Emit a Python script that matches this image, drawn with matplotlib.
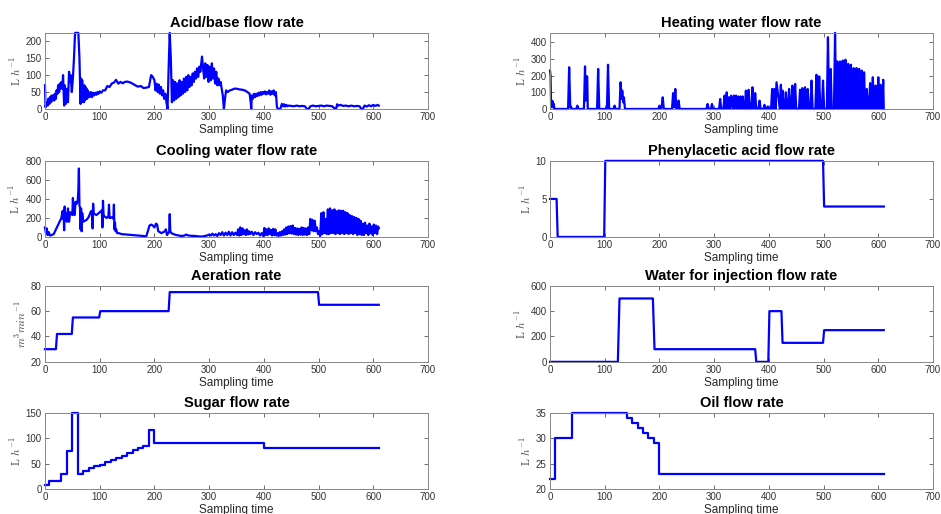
import matplotlib
matplotlib.use("Agg")
import matplotlib.pyplot as plt

plt.rcParams['font.family'] = ['Liberation Sans', 'DejaVu Sans']
plt.rcParams['mathtext.fontset'] = 'cm'

# acid/base flow rate (noisy)
ab_t = [0, 1, 3, 5, 6, 8, 9, 11, 12, 14,
        15, 17, 18, 20, 21, 23, 24, 26, 27, 29,
        30, 32, 33, 35, 36, 38, 40, 42, 44, 45,
        47, 49, 51, 53, 55, 58, 61, 63, 65, 66,
        67, 68, 69, 70, 71, 72, 73, 74, 75, 76,
        77, 78, 79, 80, 82, 84, 86, 88, 90, 92,
        94, 96, 98, 100, 103, 106, 110, 114, 118, 122,
        126, 130, 134, 138, 142, 146, 150, 155, 160, 165,
        170, 175, 180, 185, 190, 194, 197, 200, 202, 204,
        206, 208, 210, 212, 214, 216, 218, 220, 222, 224,
        226, 228, 230, 232, 234, 236, 238, 240, 242, 244,
        246, 248, 250, 252, 254, 256, 258, 260, 262, 264,
        266, 268, 270, 272, 274, 276, 278, 280, 282, 284,
        287, 289, 291, 293, 295, 297, 299, 301, 303, 305,
        307, 309, 311, 313, 315, 317, 319, 321, 323, 325,
        327, 329, 331, 334, 338, 342, 346, 350, 355, 360,
        365, 370, 374, 376, 377, 378, 380, 382, 384, 386,
        388, 390, 392, 394, 396, 398, 400, 402, 404, 406,
        408, 410, 412, 414, 416, 418, 420, 422, 424, 426,
        430, 433, 435, 437, 439, 441, 443, 445, 450, 455,
        460, 465, 470, 475, 479, 482, 485, 490, 495, 500,
        505, 510, 515, 520, 525, 529, 532, 534, 536, 540,
        545, 550, 555, 560, 565, 570, 575, 578, 581, 584,
        588, 592, 596, 600, 604, 608, 610]
ab_y = [70, 5, 20, 10, 30, 15, 35, 20, 40, 25,
        40, 25, 45, 30, 55, 45, 70, 50, 75, 60,
        80, 60, 100, 10, 70, 15, 60, 20, 110, 80,
        100, 50, 90, 150, 225, 225, 225, 150, 15, 90,
        20, 85, 25, 60, 20, 70, 25, 65, 30, 60,
        30, 55, 35, 50, 35, 50, 35, 48, 40, 48,
        42, 50, 45, 52, 48, 55, 55, 68, 65, 75,
        78, 86, 75, 80, 76, 80, 81, 79, 75, 70,
        66, 68, 62, 63, 65, 100, 95, 85, 55, 75,
        50, 72, 45, 65, 40, 55, 30, 45, 20, 0,
        120, 225, 150, 20, 85, 25, 80, 30, 75, 35,
        85, 40, 80, 45, 90, 50, 95, 55, 100, 65,
        95, 70, 105, 80, 110, 90, 120, 95, 125, 110,
        155, 120, 90, 135, 95, 130, 80, 125, 85, 135,
        90, 120, 75, 110, 70, 90, 70, 80, 60, 40,
        0, 30, 55, 50, 55, 57, 60, 60, 58, 57,
        55, 50, 45, 20, 0, 40, 30, 45, 35, 45,
        38, 48, 40, 50, 42, 50, 45, 52, 43, 50,
        45, 55, 42, 52, 45, 55, 40, 50, 5, 0,
        0, 15, 8, 14, 7, 12, 8, 10, 9, 8,
        10, 8, 9, 8, 0, 0, 8, 10, 8, 9,
        10, 8, 10, 9, 8, 2, 0, 14, 10, 12,
        9, 10, 8, 10, 8, 9, 8, 0, 0, 10,
        7, 11, 8, 12, 9, 12, 10]

# heating water flow rate (spikes)
hw_t = [0, 1, 2, 3, 4, 5, 6, 7, 8, 9,
        33, 35, 37, 38, 40, 48, 50, 52, 62, 64,
        65, 66, 68, 69, 86, 88, 90, 104, 106, 108,
        116, 118, 120, 127, 129, 131, 132, 134, 135, 137,
        198, 200, 202, 204, 206, 208, 223, 225, 227, 229,
        231, 233, 235, 237, 286, 288, 290, 294, 296, 298,
        309, 311, 313, 317, 319, 321, 323, 325, 327, 329,
        331, 334, 336, 338, 340, 342, 344, 346, 348, 350,
        352, 354, 356, 358, 360, 361, 363, 365, 368, 370,
        372, 373, 375, 377, 381, 383, 385, 390, 392, 394,
        397, 398, 400, 404, 406, 408, 410, 412, 414, 420,
        422, 423, 425, 427, 429, 431, 433, 435, 437, 439,
        441, 443, 445, 446, 448, 450, 455, 457, 459, 461,
        463, 464, 466, 468, 469, 471, 473, 476, 478, 480,
        485, 487, 489, 490, 492, 494, 497, 499, 501, 506,
        508, 510, 511, 513, 515, 519, 521, 523, 525, 527,
        528, 530, 532, 533, 535, 537, 538, 540, 542, 543,
        545, 547, 548, 550, 552, 553, 555, 557, 558, 560,
        562, 563, 565, 567, 568, 570, 572, 573, 574, 576,
        577, 579, 581, 583, 585, 587, 588, 590, 592, 593,
        595, 597, 598, 600, 602, 603, 604, 606, 607, 609,
        610]
hw_y = [230, 200, 10, 50, 20, 45, 10, 30, 0, 0,
        0, 250, 10, 15, 0, 0, 20, 0, 0, 255,
        50, 195, 195, 0, 0, 240, 0, 0, 265, 0,
        0, 20, 0, 0, 160, 60, 110, 40, 70, 0,
        0, 20, 0, 10, 70, 0, 0, 95, 10, 120,
        0, 0, 50, 0, 0, 30, 0, 0, 30, 0,
        0, 60, 0, 0, 80, 0, 100, 0, 70, 0,
        80, 0, 80, 0, 80, 0, 75, 0, 75, 0,
        75, 0, 0, 110, 0, 0, 115, 0, 0, 130,
        0, 0, 95, 0, 0, 50, 0, 0, 25, 0,
        0, 15, 0, 0, 120, 0, 120, 0, 160, 0,
        145, 0, 110, 0, 0, 100, 0, 0, 120, 0,
        0, 140, 0, 0, 150, 0, 0, 115, 0, 125,
        0, 0, 130, 0, 0, 120, 0, 0, 170, 0,
        0, 205, 0, 0, 195, 0, 0, 170, 0, 0,
        430, 0, 0, 240, 0, 0, 456, 0, 285, 0,
        0, 285, 0, 0, 290, 0, 0, 295, 0, 0,
        270, 0, 0, 265, 0, 0, 245, 0, 0, 245,
        0, 0, 240, 0, 0, 230, 0, 0, 220, 0,
        0, 120, 0, 0, 155, 0, 0, 190, 0, 0,
        140, 0, 0, 190, 0, 0, 145, 0, 0, 175,
        0]

# cooling water flow rate
cw_t = [0, 2, 3, 5, 7, 9, 12, 16, 20, 25,
        30, 32, 33, 34, 35, 36, 37, 38, 40, 42,
        44, 46, 48, 50, 51, 52, 54, 56, 58, 60,
        61, 62, 63, 64, 65, 66, 67, 68, 70, 73,
        76, 80, 84, 86, 87, 88, 89, 91, 94, 98,
        102, 104, 105, 106, 107, 108, 110, 113, 116, 117,
        118, 120, 123, 125, 126, 127, 128, 129, 130, 132,
        135, 140, 150, 160, 170, 180, 185, 188, 191, 194,
        197, 200, 203, 205, 207, 210, 213, 216, 219, 221,
        223, 225, 227, 228, 229, 231, 235, 240, 245, 250,
        255, 258, 262, 268, 275, 282, 288, 292, 296, 300,
        303, 306, 309, 312, 315, 318, 321, 324, 327, 330,
        333, 336, 339, 342, 345, 348, 351, 353, 355, 357,
        359, 361, 363, 365, 367, 369, 371, 373, 375, 378,
        381, 384, 387, 390, 393, 396, 399, 401, 403, 405,
        407, 409, 411, 413, 415, 417, 419, 421, 423, 425,
        427, 429, 431, 433, 435, 437, 439, 441, 443, 445,
        447, 449, 451, 453, 455, 457, 459, 461, 463, 465,
        467, 469, 471, 473, 475, 477, 479, 481, 483, 485,
        487, 489, 491, 493, 495, 497, 499, 501, 503, 505,
        507, 509, 511, 513, 515, 517, 519, 521, 523, 525,
        527, 529, 531, 533, 535, 537, 539, 541, 543, 545,
        547, 549, 551, 553, 555, 557, 559, 561, 563, 565,
        567, 569, 571, 573, 575, 577, 579, 581, 583, 585,
        587, 589, 591, 593, 595, 597, 599, 601, 603, 605,
        607, 609, 610]
cw_y = [100, 30, 90, 20, 50, 15, 20, 30, 80, 140,
        200, 270, 190, 280, 70, 320, 180, 250, 160, 300,
        160, 260, 250, 230, 410, 330, 230, 370, 350, 390,
        500, 720, 330, 310, 80, 300, 60, 250, 160, 170,
        180, 210, 270, 270, 90, 350, 250, 240, 230, 250,
        270, 280, 100, 380, 240, 220, 210, 200, 220, 340,
        200, 200, 210, 190, 340, 80, 150, 60, 80, 40,
        40, 30, 25, 20, 15, 10, 5, 60, 120, 130,
        120, 100, 140, 130, 60, 50, 40, 50, 60, 80,
        20, 40, 50, 240, 60, 40, 30, 20, 15, 10,
        15, 25, 15, 12, 10, 5, 5, 10, 15, 25,
        15, 35, 15, 30, 10, 40, 20, 50, 15, 45,
        20, 55, 15, 50, 20, 45, 20, 80, 15, 100,
        20, 90, 30, 70, 20, 80, 25, 60, 30, 55,
        20, 50, 30, 45, 15, 40, 10, 95, 20, 80,
        20, 90, 30, 75, 15, 85, 20, 80, 15, 40,
        10, 50, 15, 60, 20, 80, 25, 100, 30, 110,
        40, 115, 35, 120, 30, 95, 25, 90, 20, 85,
        25, 100, 20, 95, 25, 90, 20, 100, 30, 190,
        70, 180, 60, 170, 60, 100, 30, 60, 10, 250,
        30, 260, 40, 190, 30, 290, 30, 300, 40, 280,
        40, 290, 30, 270, 40, 280, 30, 275, 40, 275,
        30, 260, 40, 250, 30, 230, 40, 220, 30, 210,
        40, 200, 20, 190, 30, 170, 20, 140, 20, 150,
        40, 120, 20, 140, 40, 110, 20, 130, 40, 120,
        30, 110, 90]

# phenylacetic acid flow rate
pa_t = [0, 12, 14, 99, 101, 499, 501, 610]
pa_y = [5, 5, 0, 0, 10, 10, 4, 4]

# aeration rate
ar_t = [0, 20, 22, 49, 51, 99, 101, 226, 228, 499, 501, 610]
ar_y = [30, 30, 42, 42, 55, 55, 60, 60, 75, 75, 65, 65]

# water for injection flow rate
wi_t = [0, 124, 127, 188, 191, 375, 377, 399, 401, 423, 425, 499, 501, 610]
wi_y = [0, 0, 500, 500, 100, 100, 0, 0, 400, 400, 150, 150, 250, 250]

# sugar flow rate
su_t = [0, 7, 30, 40, 50, 60, 70, 80, 90, 100, 110, 120, 130, 140,
        150, 160, 170, 180, 190, 200, 400, 610]
su_y = [8, 15, 30, 75, 150, 30, 36, 42, 45, 48, 53, 58, 62, 66,
        72, 76, 80, 85, 116, 90, 80, 80]

# oil flow rate
oi_t = [0, 10, 40, 140, 150, 160, 170, 180, 190, 200, 610]
oi_y = [22, 30, 35, 34, 33, 32, 31, 30, 29, 23, 23]

lh = r'$\mathrm{L}\ h^{-1}$'
panels = [
    ("Acid/base flow rate", ab_t, ab_y, None, (0, 225), [0, 50, 100, 150, 200], lh),
    ("Heating water flow rate", hw_t, hw_y, None, (0, 456), [0, 100, 200, 300, 400], lh),
    ("Cooling water flow rate", cw_t, cw_y, None, (0, 800), [0, 200, 400, 600, 800], lh),
    ("Phenylacetic acid flow rate", pa_t, pa_y, None, (0, 10), [0, 5, 10], lh),
    ("Aeration rate", ar_t, ar_y, None, (20, 80), [20, 40, 60, 80], r'$m^3min^{-1}$'),
    ("Water for injection flow rate", wi_t, wi_y, None, (0, 600), [0, 200, 400, 600], lh),
    ("Sugar flow rate", su_t, su_y, 'steps-post', (0, 150), [0, 50, 100, 150], lh),
    ("Oil flow rate", oi_t, oi_y, 'steps-post', (20, 35), [20, 25, 30, 35], lh),
]

fig = plt.figure(figsize=(9.41, 5.14), dpi=100)
lefts = [0.0478, 0.5845]
bottoms = [0.788, 0.539, 0.296, 0.0486]
for i, (title, t, y, ds, ylim, yt, ylab) in enumerate(panels):
    ax = fig.add_axes([lefts[i % 2], bottoms[i // 2], 0.407, 0.148])
    # lines that sit on the axis limits are drawn in full, as in the original figure
    if ds:
        ax.plot(t, y, color='#0000ff', lw=1.6, drawstyle=ds, clip_on=False)
    else:
        ax.plot(t, y, color='#0000ff', lw=1.6, clip_on=False)
    ax.set_xlim(0, 700)
    ax.set_ylim(*ylim)
    ax.set_xticks(range(0, 701, 100))
    ax.set_yticks(yt)
    ax.tick_params(direction='in', length=3, width=0.6, labelsize=7, colors='#555555',
                   labelcolor='#333333', top=True, right=True, pad=2.5)
    for s in ax.spines.values():
        s.set_color('#888888')
        s.set_linewidth(0.7)
    ax.set_title(title, fontsize=10.5, fontweight='bold', pad=4)
    ax.set_xlabel("Sampling time", fontsize=8.5, color='#262626', labelpad=1)
    ax.set_ylabel(ylab, fontsize=8, color='#444444', labelpad=2)

fig.savefig("out.png", dpi=100)
